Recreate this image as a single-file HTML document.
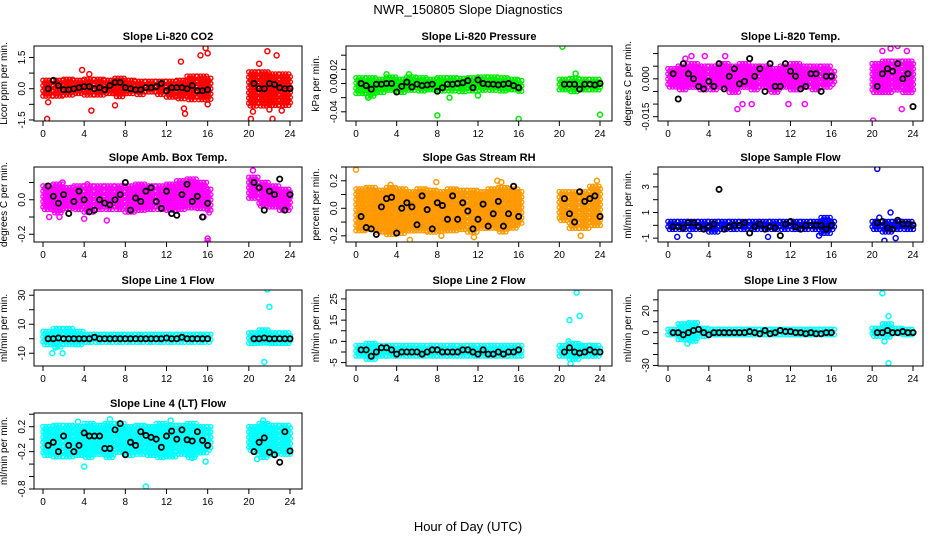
<!DOCTYPE html>
<html><head><meta charset="utf-8"><style>
body{margin:0;background:#fff;}
svg{display:block;font-family:"Liberation Sans",sans-serif;}
</style></head><body>
<svg id="c" width="936" height="540" viewBox="0 0 936 540">
<text x="468" y="14" text-anchor="middle" font-size="13">NWR_150805  Slope Diagnostics</text>
<text x="468" y="531" text-anchor="middle" font-size="13">Hour of Day (UTC)</text>
</svg>
<script>
const bandHours=[0,1,2,3,4,5,6,7,8,9,10,11,12,13,14,15,16,20,21,22,23];
const blackHours=[0.5,1,1.5,2,2.5,3,3.5,4,4.5,5,5.5,6,6.5,7,7.5,8,8.5,9,9.5,10,10.5,11,11.5,12,12.5,13,13.5,14,14.5,15,15.5,16,20.5,21,21.5,22,22.5,23,23.5,24];
const xTicks=[0,4,8,12,16,20,24];

const co2Lo=[-0.35,-0.4,-0.3,-0.3,-0.35,-0.3,-0.3,-0.4,-0.3,-0.3,-0.25,-0.3,-0.4,-0.5,-0.6,-0.6,-0.5,-0.9,-0.9,-0.9,-0.9];
const co2Hi=[0.4,0.4,0.45,0.4,0.45,0.45,0.4,0.5,0.4,0.35,0.35,0.35,0.35,0.4,0.6,0.6,0.5,0.8,0.8,0.7,0.7];
const co2Black=[0,0.4,0.15,-0.05,-0.05,0,0.05,0.1,0.1,0,0.05,-0.05,0.15,0.3,0.3,0.05,0,-0.05,-0.05,0.05,0.05,0.1,0.25,-0.1,0.05,0.05,0.05,0,0.15,-0.1,-0.1,-0.05,0.25,0,0,0.25,0.2,0.05,0,0];
const co2OutT=[0.4,0.5,3.8,4.5,4.7,7,13.4,13.7,13.8,15.3,15.8,16,16,20.2,20.4,21,21.8,22,22.3,22.7,23.2];
const co2OutV=[-1.45,-0.65,0.9,0.7,-1.05,-0.8,1.3,-0.95,-1.2,1.6,1.95,1.7,-0.75,-1.45,-1.1,1.2,1.8,-1.0,-1.45,1.6,-1.05];

const presLo=[-0.016,-0.018,-0.014,-0.012,-0.014,-0.012,-0.012,-0.012,-0.013,-0.012,-0.012,-0.012,-0.013,-0.012,-0.013,-0.012,-0.014,-0.012,-0.012,-0.012,-0.012];
const presHi=[0.008,0.008,0.006,0.009,0.006,0.009,0.008,0.006,0.008,0.008,0.007,0.008,0.009,0.009,0.008,0.006,0.004,0.006,0.007,0.006,0.006];
const presBlack=[0,-0.003,-0.008,-0.001,-0.001,0,0,-0.012,-0.004,0.002,-0.005,-0.001,-0.003,-0.002,-0.001,-0.011,-0.006,-0.001,-0.001,0,0.001,0.004,-0.006,0.005,0,-0.001,-0.001,-0.002,-0.001,0,-0.003,-0.006,-0.001,-0.001,-0.001,-0.008,-0.001,-0.001,-0.002,0];
const presOutT=[8,16,24,20.3,1.2,9.2,12,3,5.2,21.6];
const presOutV=[-0.045,-0.05,-0.044,0.052,-0.02,-0.02,-0.017,0.013,0.013,0.014];

const tempLo=[-0.004,-0.005,-0.004,-0.005,-0.005,-0.004,-0.006,-0.004,-0.005,-0.004,-0.006,-0.004,-0.005,-0.004,-0.005,-0.004,-0.003,-0.006,-0.006,-0.005,-0.006];
const tempHi=[0.004,0.005,0.006,0.005,0.005,0.006,0.005,0.006,0.005,0.005,0.004,0.005,0.006,0.005,0.005,0.005,0.003,0.006,0.007,0.007,0.007];
const tempBlack=[0.002,-0.008,0.006,0.002,0,-0.003,-0.004,-0.001,-0.003,0.006,-0.004,0.001,0.004,-0.002,-0.001,0.008,0.001,0.004,-0.005,0.006,-0.003,-0.003,0.006,0.003,0.001,-0.004,-0.003,0.002,0.002,-0.005,0.001,0.001,-0.003,0.002,0.004,0.003,0.006,0,0.002,-0.011];
const tempOutT=[2.3,3.6,5.6,6.8,7.3,8.2,11.8,13.4,20.1,21,22.9,23.4,21.8,22.5,1.7];
const tempOutV=[0.009,0.009,0.009,-0.012,-0.010,-0.010,-0.010,-0.010,-0.0165,0.011,-0.012,0.011,0.012,0.013,0.008];

const ambLo=[-0.07,-0.08,-0.06,-0.07,-0.08,-0.07,-0.07,-0.06,-0.08,-0.07,-0.07,-0.06,-0.07,-0.06,-0.06,-0.06,-0.08,0.0,-0.04,-0.05,-0.07];
const ambHi=[0.08,0.09,0.07,0.08,0.08,0.08,0.08,0.08,0.08,0.09,0.08,0.08,0.09,0.11,0.12,0.1,0.06,0.13,0.1,0.08,0.06];
const ambBlack=[0.08,0.02,-0.02,0.03,-0.08,-0.01,0.05,0,-0.07,-0.06,0,-0.02,-0.03,0,0.03,0.1,-0.06,0.01,-0.01,0.05,0.07,-0.01,-0.05,0.05,-0.08,-0.09,0.03,0.09,-0.01,0.02,-0.1,-0.02,0.1,0.07,-0.06,0.05,0.03,0.12,-0.06,0.03];
const ambOutT=[0.6,1.6,4,6.2,15.6,16,16,20.4,1.9,4.3];
const ambOutV=[-0.1,-0.1,-0.11,-0.12,-0.1,-0.225,-0.24,0.17,0.1,0.09];

const rhLo=[-0.18,-0.16,-0.18,-0.2,-0.2,-0.18,-0.17,-0.18,-0.18,-0.18,-0.17,-0.18,-0.15,-0.15,-0.18,-0.16,-0.12,-0.1,-0.15,-0.15,-0.14];
const rhHi=[0.14,0.15,0.13,0.15,0.14,0.12,0.14,0.13,0.12,0.14,0.13,0.13,0.12,0.14,0.15,0.14,0.12,0.12,0.12,0.12,0.16];
const rhBlack=[-0.06,-0.14,-0.15,-0.19,0.01,0.07,0.08,-0.18,0,0.04,0.01,-0.12,0.09,-0.01,-0.15,0.04,0.02,-0.08,0.09,-0.08,0.04,-0.02,-0.15,-0.08,0.03,-0.13,-0.04,0.05,-0.13,-0.04,0.16,-0.06,0.07,-0.04,-0.1,0.12,0.05,0.07,0.09,-0.06];
const rhOutT=[0,5.3,8.4,11.6,13.9,14.3,22.1,23.7,7.9,3.4];
const rhOutV=[0.28,-0.23,-0.2,-0.21,0.2,0.19,-0.2,0.2,0.19,0.17];

const sfLo=[-0.5,-0.5,-0.5,-0.5,-0.6,-0.5,-0.5,-0.5,-0.5,-0.5,-0.5,-0.5,-0.5,-0.5,-0.5,-0.7,-0.5,-0.5,-0.6,-0.5,-0.5];
const sfHi=[0.3,0.3,0.3,0.3,0.3,0.3,0.3,0.3,0.3,0.3,0.3,0.3,0.3,0.3,0.3,0.6,0.3,0.3,0.3,0.3,0.3];
const sfBlack=[-0.1,-0.1,-0.2,0.2,0.2,-0.1,-0.3,-0.1,0.1,2.8,-0.3,-0.1,0,0,0.2,-0.6,-0.1,0.1,-0.3,-0.1,-0.2,-0.8,0.1,0.3,-0.1,-0.3,0,0,0,0,-0.3,0,0.2,0.3,-0.2,-0.3,0.4,0.1,0.1,0];
const sfOutT=[20.5,21.2,21.8,22.3,0.9,2.1,9.8,14.8,20.7];
const sfOutV=[4.4,-1.2,1.0,-1.0,-0.9,-0.8,-0.9,-0.8,0.6];

const l1Lo=[-4,-6,-5,-4,-3,-3,-3,-3,-3,-3,-3,-3,-3,-3,-3,-3,-3,-4,-4,-4,-4];
const l1Hi=[5,7,7,5,3,3,3,3,3,3,3,3,3,3,3,3,3,4,6,4,4];
const l1Black=[0,0,0.5,0,0,0,0,0,0,1,0,0,0,0,0,0,0,0,0,0,0,0,0,0.5,0,0,1,0,0,0,0,0,0,0,0.5,0,0,0,0,0];
const l1OutT=[0.9,1.9,21.8,22,21.5,1.2];
const l1OutV=[-10,-10,34,22,-16,-6];

const l2Lo=[-3,-4,-3,-3,-3,-3,-3,-3,-3,-3,-3,-3,-3,-3,-3,-3,-3,-3,-4,-3,-3];
const l2Hi=[3,4,3,3,3,3,3,3,3,3,3,3,3,3,3,3,3,3,4,3,3];
const l2Black=[1,1,-2,0,2,2,1,-1,0,0,0,0,-1,0,1,1,0,0,0,0,1,1,0,-1,1,-1,-1,0,-1,0,0,1,0,2,0,-0.5,0,1,0,0];
const l2OutT=[21,21.7,22,21.1,20.9,22.1,23];
const l2OutV=[15,28,17,-5.5,5,3,3];

const l3Lo=[-3,-8,-8,-4,-3,-3,-3,-3,-3,-3,-3,-3,-3,-3,-3,-3,-3,-4,-5,-3,-3];
const l3Hi=[3,8,9,4,3,3,3,3,3,3,3,3,3,3,3,3,3,4,8,4,3];
const l3Black=[0,0,-2,0,2,3,0,-2,0,0,0,0,0,0,0,1,0,-1,2,-1,0,2,1,1,0,0,-1,0,-1,-1,0,0,0,0,2,0,0,1,0,0];
const l3OutT=[21,21.6,1.9,21.6,21.2];
const l3OutV=[36,-28,-10,15,-8];

const l4Lo=[-0.3,-0.3,-0.3,-0.3,-0.3,-0.25,-0.3,-0.25,-0.3,-0.25,-0.3,-0.3,-0.3,-0.25,-0.3,-0.25,-0.2,-0.2,-0.3,-0.25,-0.25];
const l4Hi=[0.2,0.22,0.22,0.2,0.25,0.22,0.25,0.25,0.2,0.22,0.2,0.25,0.22,0.22,0.25,0.2,0.2,0.2,0.25,0.22,0.22];
const l4Black=[-0.1,-0.05,-0.2,0.05,-0.1,-0.2,-0.1,0.1,0.05,0.05,0.05,-0.15,-0.15,0.15,0.25,-0.25,-0.05,-0.1,0.12,0.06,0.03,0,-0.13,0.05,0.13,0,0.15,-0.01,-0.03,0.12,-0.02,-0.1,-0.2,-0.05,0.02,-0.21,-0.25,-0.37,0.12,-0.19];
const l4OutT=[4,10,12.4,6.5,3.4,14.5,15.8,20.8,21.4];
const l4OutV=[-0.44,-0.76,0.3,0.32,0.28,-0.3,-0.36,-0.32,0.3];

const NS="http://www.w3.org/2000/svg";
const svg=document.getElementById('c');
function mk(tag,attrs,parent){const e=document.createElementNS(NS,tag);for(const k in attrs)e.setAttribute(k,attrs[k]);(parent||svg).appendChild(e);return e;}

const cols=[{b0:34,b1:302,x0:43,x24:290},{b0:346,b1:612,x0:356,x24:600},{b0:658,b1:923,x0:668,x24:913}];
const rows=[{t:46,b:121},{t:167,b:242},{t:290,b:366},{t:413,b:489}];

const panels=[
 {name:'co2',title:'Slope Li-820 CO2',yt:'Licor ppm per min.',c:0,r:0,col:'#ff0000',yl:[-1.55,2.05],ticks:[-1.5,-0.75,0,0.75,1.5],labs:['-1.5','','0.0','','1.5'],lo:co2Lo,hi:co2Hi,bk:co2Black,ot:co2OutT,ov:co2OutV},
 {name:'pressure',title:'Slope Li-820 Pressure',yt:'kPa per min.',c:1,r:0,col:'#00ee00',yl:[-0.053,0.053],ticks:[-0.04,-0.02,0,0.02,0.04],labs:['-0.04','','0.00','0.02',''],lo:presLo,hi:presHi,bk:presBlack,ot:presOutT,ov:presOutV},
 {name:'temp',title:'Slope Li-820 Temp.',yt:'degrees C per min.',c:2,r:0,col:'#ff00ff',yl:[-0.0167,0.013],ticks:[-0.015,-0.01,-0.005,0,0.005,0.01],labs:['-0.015','','','0.000','',''],lo:tempLo,hi:tempHi,bk:tempBlack,ot:tempOutT,ov:tempOutV},
 {name:'amb-box-temp',title:'Slope Amb. Box Temp.',yt:'degrees C per min.',c:0,r:1,col:'#ff00ff',yl:[-0.245,0.19],ticks:[-0.2,-0.1,0,0.1],labs:['-0.2','','0.0',''],lo:ambLo,hi:ambHi,bk:ambBlack,ot:ambOutT,ov:ambOutV},
 {name:'gas-stream-rh',title:'Slope Gas Stream RH',yt:'percent per min.',c:1,r:1,col:'#ff9900',yl:[-0.245,0.3],ticks:[-0.2,-0.1,0,0.1,0.2,0.3],labs:['-0.2','','0.0','','0.2',''],lo:rhLo,hi:rhHi,bk:rhBlack,ot:rhOutT,ov:rhOutV},
 {name:'sample-flow',title:'Slope Sample Flow',yt:'ml/min per min.',c:2,r:1,col:'#0000ff',yl:[-1.3,4.55],ticks:[-1,0,1,2,3,4],labs:['-1','','1','','3',''],lo:sfLo,hi:sfHi,bk:sfBlack,ot:sfOutT,ov:sfOutV},
 {name:'line1-flow',title:'Slope Line 1 Flow',yt:'ml/min per min.',c:0,r:2,col:'#00ffff',yl:[-18.8,33.6],ticks:[-10,0,10,20,30],labs:['-10','','10','','30'],lo:l1Lo,hi:l1Hi,bk:l1Black,ot:l1OutT,ov:l1OutV},
 {name:'line2-flow',title:'Slope Line 2 Flow',yt:'ml/min per min.',c:1,r:2,col:'#00ffff',yl:[-6.6,29.2],ticks:[-5,0,5,10,15,20,25],labs:['-5','','5','','15','','25'],lo:l2Lo,hi:l2Hi,bk:l2Black,ot:l2OutT,ov:l2OutV},
 {name:'line3-flow',title:'Slope Line 3 Flow',yt:'ml/min per min.',c:2,r:2,col:'#00ffff',yl:[-30.5,39],ticks:[-30,-20,-10,0,10,20,30],labs:['-30','','','0','','20',''],lo:l3Lo,hi:l3Hi,bk:l3Black,ot:l3OutT,ov:l3OutV},
 {name:'line4-flow',title:'Slope Line 4 (LT) Flow',yt:'ml/min per min.',c:0,r:3,col:'#00ffff',yl:[-0.8,0.42],ticks:[-0.8,-0.6,-0.4,-0.2,0,0.2,0.4],labs:['-0.8','','','-0.2','','0.2',''],lo:l4Lo,hi:l4Hi,bk:l4Black,ot:l4OutT,ov:l4OutV}
];

panels.forEach(p=>{
  const C=cols[p.c],R=rows[p.r];
  const sx=h=>C.x0+(C.x24-C.x0)*h/24;
  const sy=v=>R.b-(v-p.yl[0])/(p.yl[1]-p.yl[0])*(R.b-R.t);
  const g=mk('g',{});
  
  
  const t=mk('text',{x:(C.b0+C.b1)/2,y:R.t-6,'text-anchor':'middle','font-size':'11','font-weight':'bold'},g);
  t.textContent=p.title;
  
  
  const ytx=C.b0-27, yty=(R.t+R.b)/2;
  const yt=mk('text',{x:ytx,y:yty,'text-anchor':'middle','font-size':'10',transform:`rotate(-90 ${ytx} ${yty})`},g);
  yt.textContent=p.yt;
  
  
  // clip
  const cid='clip-'+p.name;
  const cp=mk('clipPath',{id:cid},g);
  mk('rect',{x:C.b0,y:R.t,width:C.b1-C.b0,height:R.b-R.t},cp);
  const pts=mk('g',{'clip-path':`url(#${cid})`},g);
  
  
  // band clouds
  bandHours.forEach((h,i)=>{
    const hEnd = h===16?16.35:(h===23?24.1:h+1);
    const xa=sx(h), xb=sx(hEnd);
    const ya=sy(p.hi[i]), yb=sy(p.lo[i]);
    let row=0;
    for(let y=ya;y<=yb;y+=2.6,row++){
      for(let x=xa+(row%2)*1.5;x<=xb;x+=3){
        const c=mk('circle',{cx:x.toFixed(1),cy:y.toFixed(1),r:2.2,fill:'none',stroke:p.col,'stroke-width':1.3},pts);
      }
    }
  });
  p.ot.forEach((h,i)=>{
    const c=mk('circle',{cx:sx(h),cy:sy(p.ov[i]),r:2.5,fill:'none',stroke:p.col,'stroke-width':1.5},pts);
    
    
  });
  blackHours.forEach((h,i)=>{
    const c=mk('circle',{cx:sx(h),cy:sy(p.bk[i]),r:2.6,fill:'none',stroke:'#000','stroke-width':1.8},pts);
    
    
  });
  const box=mk('rect',{x:C.b0,y:R.t,width:C.b1-C.b0,height:R.b-R.t,fill:'none',stroke:'#000','stroke-width':1},g);
  
  
  // x axis
  xTicks.forEach(h=>{
    mk('line',{x1:sx(h),x2:sx(h),y1:R.b,y2:R.b+5,stroke:'#000'},g);
    const l=mk('text',{x:sx(h),y:R.b+16,'text-anchor':'middle','font-size':'10'},g);
    l.textContent=h;
    
    
  });
  // y axis
  p.ticks.forEach((v,i)=>{
    const y=sy(v);
    mk('line',{x1:C.b0,x2:C.b0-5,y1:y,y2:y,stroke:'#000'},g);
    if(p.labs[i]){
      const lx=C.b0-9;
      const l=mk('text',{x:lx,y:y,'text-anchor':'middle','font-size':'10',transform:`rotate(-90 ${lx} ${y})`},g);
      l.textContent=p.labs[i];
      
      
    }
  });
});
</script>
</body></html>
